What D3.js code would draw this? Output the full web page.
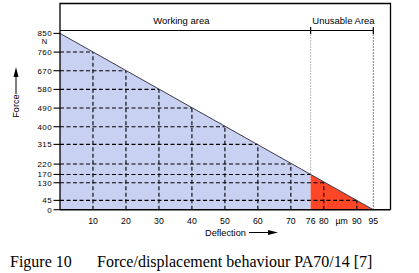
<!DOCTYPE html>
<html>
<head>
<meta charset="utf-8">
<script src="https://cdn.jsdelivr.net/npm/d3@7"></script>
<style>
  body { margin: 0; background: #fff; }
  svg { display: block; font-family: "Liberation Sans", Arial, sans-serif; }
</style>
</head>
<body>
<div id="chart"></div>
<script>
// force / deflection values
const lineDeflection = [0, 95];
const lineForce = [850, 0];
const gridDeflection = [10, 20, 30, 40, 50, 60, 70, 76, 80, 90];
const gridForce = [760, 670, 580, 490, 400, 315, 220, 170, 130, 45];
const yTickLabels = [850, 760, 670, 580, 490, 400, 315, 220, 170, 130, 45, 0];
const xTickLabels = [10, 20, 30, 40, 50, 60, 70, 76, 80, 90, 95];
const workingLimit = 76;   // end of working area
const workingForce = 170;
const maxDeflection = 95;

const width = 419, height = 273;
const svg = d3.select("#chart").append("svg")
    .attr("width", width)
    .attr("height", height);

const x = d3.scaleLinear().domain([0, 95]).range([60, 373.3]);
const y = d3.scaleLinear().domain([0, 850]).range([209.7, 33.4]);

const boxRight = 390.5, boxTop = 3.5, headerY = 30.5;

// filled areas under the line
const area = d3.area()
    .x(d => x(d[0]))
    .y0(y(0))
    .y1(d => y(d[1]));

const workingPts = [[lineDeflection[0], lineForce[0]], [workingLimit, workingForce]];
const unusablePts = [[workingLimit, workingForce], [lineDeflection[1], lineForce[1]]];

svg.append("path").attr("d", area(workingPts)).attr("fill", "#c9d1f2");
svg.append("path").attr("d", area(unusablePts)).attr("fill", "#ff4727");

// dashed grid
const grid = svg.append("g")
    .attr("stroke", "#000")
    .attr("stroke-width", 1.1)
    .attr("stroke-dasharray", "4,2.5")
    .attr("fill", "none");

gridDeflection.forEach((dx, i) => {
    const f = gridForce[i];
    grid.append("line")
        .attr("x1", x(0)).attr("x2", x(dx))
        .attr("y1", y(f)).attr("y2", y(f));
    if (dx !== workingLimit) {
        grid.append("line")
            .attr("x1", x(dx)).attr("x2", x(dx))
            .attr("y1", y(0)).attr("y2", y(f));
    }
});

// dotted limits
svg.append("line")
    .attr("x1", x(workingLimit)).attr("x2", x(workingLimit))
    .attr("y1", headerY + 4).attr("y2", y(workingForce))
    .attr("stroke", "#777").attr("stroke-width", 1)
    .attr("stroke-dasharray", "1,2");
svg.append("line")
    .attr("x1", x(maxDeflection)).attr("x2", x(maxDeflection))
    .attr("y1", headerY + 4).attr("y2", y(0))
    .attr("stroke", "#000").attr("stroke-width", 1)
    .attr("stroke-dasharray", "1,2");

// force line
const line = d3.line().x(d => x(d[0])).y(d => y(d[1]));
svg.append("path")
    .attr("d", line(lineDeflection.map((d, i) => [d, lineForce[i]])))
    .attr("fill", "none")
    .attr("stroke", "#3a3a4a")
    .attr("stroke-width", 1);

// frame
svg.append("path")
    .attr("d", `M${x(0)},${y(0)} V${boxTop} H${boxRight} V${y(0)}`)
    .attr("fill", "none").attr("stroke", "#000").attr("stroke-width", 1.3);
svg.append("line")
    .attr("x1", x(0)).attr("x2", boxRight)
    .attr("y1", y(0)).attr("y2", y(0))
    .attr("stroke", "#000").attr("stroke-width", 1.5);

// header brackets
svg.append("line")
    .attr("x1", x(0)).attr("x2", x(maxDeflection))
    .attr("y1", headerY).attr("y2", headerY)
    .attr("stroke", "#000").attr("stroke-width", 1.2);
[workingLimit, maxDeflection].forEach(v => {
    svg.append("line")
        .attr("x1", x(v)).attr("x2", x(v))
        .attr("y1", headerY - 3.5).attr("y2", headerY + 3.5)
        .attr("stroke", "#000").attr("stroke-width", 1.2);
});
svg.append("text")
    .attr("x", (x(0) + x(workingLimit)) / 2 - 4).attr("y", 23.5)
    .attr("text-anchor", "middle").attr("font-size", 9.5)
    .text("Working area");
svg.append("text")
    .attr("x", (x(workingLimit) + x(maxDeflection)) / 2 + 1.5).attr("y", 23.5)
    .attr("text-anchor", "middle").attr("font-size", 9.5)
    .text("Unusable Area");

// y axis ticks (170/130 sit very close, nudge apart a little)
const nudge = { 170: -0.6, 130: 0.6 };
const yAxis = svg.append("g");
yTickLabels.forEach(v => {
    yAxis.append("line")
        .attr("x1", 53.5).attr("x2", x(0))
        .attr("y1", y(v)).attr("y2", y(v))
        .attr("stroke", "#000").attr("stroke-width", 1.1);
    yAxis.append("text")
        .attr("x", 52).attr("y", y(v) + (nudge[v] || 0))
        .attr("dy", "0.35em")
        .attr("text-anchor", "end")
        .attr("font-size", 8)
        .attr("letter-spacing", 0.4)
        .text(v);
});
svg.append("text")
    .attr("x", 44.5).attr("y", 41.5)
    .attr("dy", "0.35em")
    .attr("text-anchor", "middle").attr("font-size", 7.5)
    .text("N");

// x axis labels
xTickLabels.forEach(v => {
    svg.append("text")
        .attr("x", x(v)).attr("y", 224)
        .attr("text-anchor", "middle")
        .attr("font-size", 8.7)
        .text(v);
});
svg.append("text")
    .attr("x", 341.5).attr("y", 224)
    .attr("text-anchor", "middle")
    .attr("font-size", 8.7)
    .text("µm");

// axis titles with arrows
svg.append("text")
    .attr("x", 205).attr("y", 235.5)
    .attr("font-size", 9.2)
    .text("Deflection");
svg.append("line")
    .attr("x1", 249).attr("x2", 270)
    .attr("y1", 232.5).attr("y2", 232.5)
    .attr("stroke", "#000").attr("stroke-width", 1);
svg.append("path")
    .attr("d", "M268,230 L278,232.5 L268,235 Z")
    .attr("fill", "#000");

svg.append("text")
    .attr("transform", "translate(19,106) rotate(-90)")
    .attr("text-anchor", "middle")
    .attr("font-size", 9.2)
    .text("Force");
svg.append("line")
    .attr("x1", 16).attr("x2", 16)
    .attr("y1", 94).attr("y2", 74)
    .attr("stroke", "#000").attr("stroke-width", 1);
svg.append("path")
    .attr("d", "M13.5,77 L16,67 L18.5,77 Z")
    .attr("fill", "#000");

// caption
const cap = svg.append("g")
    .attr("font-family", "'Liberation Serif', 'Times New Roman', serif")
    .attr("font-size", 16);
cap.append("text").attr("x", 10).attr("y", 267).text("Figure 10");
cap.append("text").attr("x", 97).attr("y", 267).text("Force/displacement behaviour PA70/14 [7]");
</script>
</body>
</html>
